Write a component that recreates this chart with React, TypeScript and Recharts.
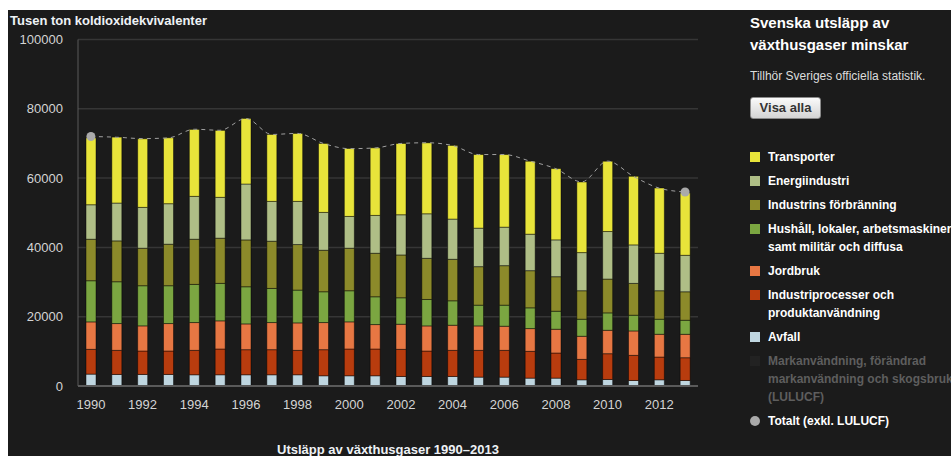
import { ComposedChart, Bar, Line, XAxis, YAxis, CartesianGrid } from 'recharts';

const years = [
  '1990', '1991', '1992', '1993', '1994', '1995', '1996', '1997', '1998', '1999', '2000', '2001',
  '2002', '2003', '2004', '2005', '2006', '2007', '2008', '2009', '2010', '2011', '2012', '2013',
];

// tusen ton CO2-ekv per sektor
const avfall = [3430, 3330, 3330, 3330, 3240, 3240, 3240, 3240, 3240, 2950, 2950, 2950, 2750, 2750, 2750, 2560, 2560, 2270, 2270, 1790, 1880, 1590, 1790, 1590];
const industriprocesser = [7150, 6960, 6770, 6770, 7050, 7440, 7240, 7240, 7050, 7530, 7730, 7730, 7830, 7340, 7540, 7730, 7730, 7730, 7250, 5890, 7440, 7250, 6570, 6570];
const jordbruk = [7920, 7730, 7250, 7920, 8020, 8120, 7440, 7830, 7920, 7830, 7830, 7050, 7250, 7250, 7250, 7050, 6960, 6570, 6860, 6670, 6760, 7050, 6570, 6760];
const hushall = [11880, 12070, 11590, 10920, 11010, 10820, 10720, 9850, 9470, 8890, 8980, 8020, 7630, 7630, 7050, 5990, 6080, 5990, 5210, 4930, 5020, 4540, 4350, 4060];
const forbranning = [11980, 11790, 10820, 11980, 13040, 13040, 13520, 13620, 13140, 11980, 12270, 12560, 12360, 11880, 11980, 11110, 11400, 10720, 9950, 8210, 9760, 9180, 8210, 8210];
const energiindustri = [9950, 10920, 11790, 11690, 12370, 11790, 16130, 11500, 12460, 10920, 9180, 10920, 11600, 12850, 11600, 11110, 11110, 10530, 10630, 11010, 13720, 11110, 10820, 10530];
const transporter = [19320, 19030, 19800, 19030, 19320, 19320, 18930, 19320, 19610, 19900, 19610, 19510, 20570, 20480, 21250, 21250, 20960, 21060, 20570, 20380, 20290, 19800, 18840, 17970];
const totalt = [72000, 71800, 71400, 71600, 74100, 73800, 77200, 72600, 72900, 70000, 68500, 68700, 70000, 70200, 69400, 66800, 66800, 64900, 62700, 58900, 64900, 60500, 57100, 56000];

const yTicks = [0, 20000, 40000, 60000, 80000, 100000];

// nerifrån och upp i stapeln
const series = [
  { key: 'avfall', name: 'Avfall', color: '#bfd6e0', values: avfall },
  { key: 'industriprocesser', name: 'Industriprocesser och produktanvändning', color: '#b83c0e', values: industriprocesser },
  { key: 'jordbruk', name: 'Jordbruk', color: '#e77743', values: jordbruk },
  { key: 'hushall', name: 'Hushåll, lokaler, arbetsmaskiner samt militär och diffusa', color: '#7ba641', values: hushall },
  { key: 'forbranning', name: 'Industrins förbränning', color: '#8c8a2a', values: forbranning },
  { key: 'energiindustri', name: 'Energiindustri', color: '#afbe86', values: energiindustri },
  { key: 'transporter', name: 'Transporter', color: '#e8e43a', values: transporter },
];

const legendItems = [
  { lines: ['Transporter'], color: '#e8e43a' },
  { lines: ['Energiindustri'], color: '#afbe86' },
  { lines: ['Industrins förbränning'], color: '#8c8a2a' },
  { lines: ['Hushåll, lokaler, arbetsmaskiner', 'samt militär och diffusa'], color: '#7ba641' },
  { lines: ['Jordbruk'], color: '#e77743' },
  { lines: ['Industriprocesser och', 'produktanvändning'], color: '#b83c0e' },
  { lines: ['Avfall'], color: '#bfd6e0' },
  { lines: ['Markanvändning, förändrad', 'markanvändning och skogsbruk', '(LULUCF)'], color: '#222222', muted: true },
  { lines: ['Totalt (exkl. LULUCF)'], color: '#aaaaaa', circle: true },
];

const data = years.map((year, i) => {
  const row: Record<string, string | number> = { year, totalt: totalt[i] };
  series.forEach((s) => { row[s.key] = s.values[i]; });
  return row;
});

const font = "'Liberation Sans', Arial, sans-serif";
const tickStyle = { fill: '#d4d4d4', fontSize: 13, fontFamily: font };

export default function App() {
  const last = data.length - 1;
  return (
    <div style={{
      position: 'fixed', left: 8, top: 10, width: 943, height: 446, overflow: 'hidden',
      background: '#1b1b1b', fontFamily: font, color: '#fff',
    }}>
      <div style={{ position: 'absolute', left: 2, top: 3, fontSize: 13, lineHeight: '15px', fontWeight: 'bold', color: '#eef2f6' }}>
        Tusen ton koldioxidekvivalenter
      </div>

      <div style={{ position: 'absolute', left: 0, top: 0 }}>
        <ComposedChart width={720} height={446} data={data} margin={{ top: 29.5, right: 30, bottom: 40, left: 0 }}>
          <CartesianGrid vertical={false} stroke="#363636" strokeWidth={1.5} />
          <XAxis
            dataKey="year"
            interval={1}
            height={30}
            tickLine={false}
            tickSize={0}
            tickMargin={14}
            tick={tickStyle}
            axisLine={{ stroke: '#5a5a5a', strokeWidth: 2 }}
          />
          <YAxis
            width={70}
            domain={[0, 100000]}
            ticks={yTicks}
            tickLine={false}
            tickSize={0}
            tickMargin={15}
            tick={tickStyle}
            axisLine={{ stroke: '#5a5a5a' }}
          />
          {series.map((s) => (
            <Bar
              key={s.key}
              dataKey={s.key}
              name={s.name}
              stackId="a"
              fill={s.color}
              stroke="rgba(0,0,0,0.45)"
              strokeWidth={1}
              barSize={10}
              isAnimationActive={false}
            />
          ))}
          <Line
            dataKey="totalt"
            type="monotone"
            stroke="#a0a0a0"
            strokeWidth={1}
            strokeDasharray="4 4"
            isAnimationActive={false}
            activeDot={false}
            dot={(p: any) =>
              p.index === 0 || p.index === last ? (
                <circle key={p.index} cx={p.cx} cy={p.cy} r={4.5} fill="#aaaaaa" stroke="none" />
              ) : (
                <g key={p.index} />
              )
            }
          />
        </ComposedChart>
      </div>

      <div style={{
        position: 'absolute', left: 0, width: 760, top: 432, textAlign: 'center',
        fontSize: 13, lineHeight: '15px', fontWeight: 'bold', color: '#eef2f6',
      }}>
        Utsläpp av växthusgaser 1990–2013
      </div>

      <div style={{ position: 'absolute', left: 742, top: 2, fontSize: 15, lineHeight: '22px', fontWeight: 'bold', whiteSpace: 'nowrap' }}>
        Svenska utsläpp av<br />växthusgaser minskar
      </div>
      <div style={{ position: 'absolute', left: 742, top: 58, fontSize: 12, lineHeight: '16px', color: '#dddddd', whiteSpace: 'nowrap' }}>
        Tillhör Sveriges officiella statistik.
      </div>
      <div style={{
        position: 'absolute', left: 742, top: 87, width: 71, height: 22, boxSizing: 'border-box',
        border: '1px solid #8a8a8a', borderRadius: 3,
        background: 'linear-gradient(#fafafa, #d4d4d4)', color: '#333',
        fontSize: 13, lineHeight: '20px', textAlign: 'center', fontWeight: 'bold',
      }}>
        Visa alla
      </div>

      <div style={{ position: 'absolute', left: 742, top: 138 }}>
        {legendItems.map((it, i) => (
          <div key={i} style={{ position: 'relative', marginBottom: 6, paddingLeft: 18, whiteSpace: 'nowrap' }}>
            <span style={{
              position: 'absolute', left: 0, top: 4, width: 10, height: 10,
              background: it.color, borderRadius: it.circle ? '50%' : 0,
            }} />
            {it.lines.map((l, j) => (
              <div key={j} style={{ fontSize: 12, lineHeight: '18px', fontWeight: 'bold', color: it.muted ? '#5e5e5e' : '#ffffff' }}>
                {l}
              </div>
            ))}
          </div>
        ))}
      </div>
    </div>
  );
}
